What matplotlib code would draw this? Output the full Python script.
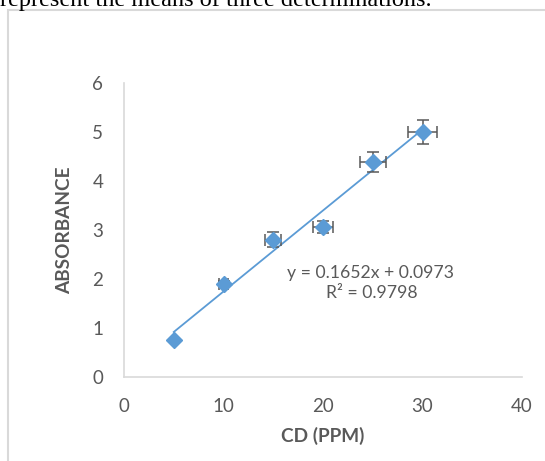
import matplotlib
matplotlib.use("Agg")
import matplotlib.pyplot as plt
import numpy as np
from matplotlib.patches import Rectangle

conc = [5, 10, 15, 20, 25, 30]
absorbance = [0.76, 1.90, 2.80, 3.06, 4.39, 5.00]
x_err = [0.0, 0.5, 0.8, 1.0, 1.3, 1.5]
y_err = [0.0, 0.05, 0.15, 0.12, 0.21, 0.25]
x_ticks = [0, 10, 20, 30, 40]
y_ticks = [0, 1, 2, 3, 4, 5, 6]
caption = "represent the means of three determinations."
equation = "y = 0.1652x + 0.0973"
r2_text = "R² = 0.9798"

blue = "#5B9BD5"
grey = "#595959"
font = "Lato"

fig = plt.figure(figsize=(5.45, 4.61), dpi=100)
fig.patch.set_facecolor("white")

# outer chart frame
fig.add_artist(Rectangle((8 / 545, -0.05), 1.1, (461 - 10) / 461 + 0.05,
                         transform=fig.transFigure, fill=False,
                         edgecolor="#d9d9d9", linewidth=1.5))
fig.text(0, 1 - 6 / 461, caption, family="Liberation Serif", fontsize=17.5,
         ha="left", va="baseline", color="black")

ax = fig.add_axes([124 / 545, (461 - 377) / 461, (522 - 124) / 545, (377 - 83) / 461])
ax.set_xlim(0, 40)
ax.set_ylim(0, 6)
ax.set_xticks(x_ticks)
ax.set_yticks(y_ticks)
for s in ["top", "right"]:
    ax.spines[s].set_visible(False)
for s in ["left", "bottom"]:
    ax.spines[s].set_color("#d9d9d9")
    ax.spines[s].set_linewidth(1.2)
ax.tick_params(length=0, labelsize=13.5, labelcolor=grey)
for lab in ax.get_xticklabels() + ax.get_yticklabels():
    lab.set_family(font)
ax.tick_params(axis="y", pad=15)
ax.tick_params(axis="x", pad=15)

# trendline
coef = np.polyfit(conc, absorbance, 1)
xs = np.array([min(conc), max(conc)])
ax.plot(xs, np.polyval(coef, xs), color=blue, linewidth=1.3, zorder=2)

ax.errorbar(conc, absorbance, xerr=x_err, yerr=y_err, fmt="none",
            ecolor=grey, elinewidth=1.1, capsize=4, capthick=1.1, zorder=3)
ax.plot(conc, absorbance, linestyle="none", marker="D", markersize=8.5,
        color=blue, markeredgecolor=blue, zorder=4)

ax.text(24.8, 2.12, equation, family=font, fontsize=12.7, color=grey,
        ha="center", va="center")
ax.text(24.9, 1.71, r2_text, family=font, fontsize=12.7, color=grey,
        ha="center", va="center")

ax.set_xlabel("CD (PPM)", family=font, fontsize=13.7, fontweight="bold",
              color=grey, labelpad=9)
ax.set_ylabel("ABSORBANCE", family=font, fontsize=13.7, fontweight="bold",
              color=grey, labelpad=14)

fig.savefig("out.png", dpi=100)
